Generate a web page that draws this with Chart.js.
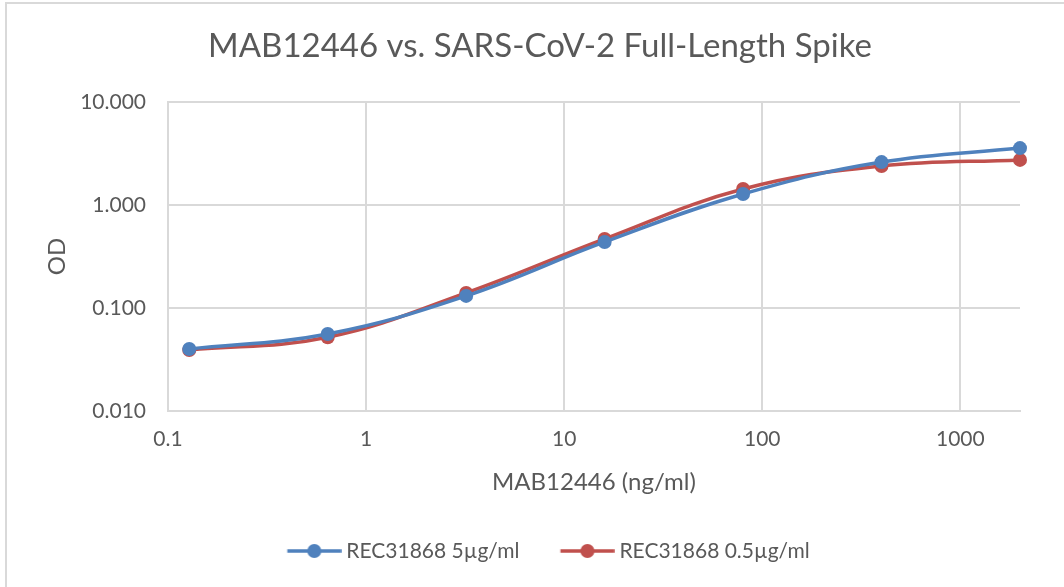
<!DOCTYPE html>
<html>
<head>
<meta charset="utf-8">
<script src="https://cdn.jsdelivr.net/npm/chart.js@4.4.1/dist/chart.umd.min.js"></script>
<style>
  html, body { margin: 0; padding: 0; background: #fff; }
  #wrap { position: relative; width: 1064px; height: 587px; }
  #frame { position: absolute; left: 5px; top: 2px; right: 0; bottom: 0; border-top: 2px solid #d9d9d9; border-left: 2px solid #d9d9d9; pointer-events: none; }
  canvas { position: absolute; left: 0; top: 0; }
</style>
</head>
<body>
<div id="wrap">
  <canvas id="c" width="1064" height="587"></canvas>
  <div id="frame"></div>
</div>
<script>
// ---- data ----
const concentrations = [0.128, 0.64, 3.2, 16, 80, 400, 2000]; // ng/ml
const od5 = [0.040, 0.056, 0.131, 0.438, 1.28, 2.61, 3.57];
const od05 = [0.039, 0.052, 0.140, 0.468, 1.43, 2.39, 2.74];
const seriesNames = ['REC31868 5µg/ml', 'REC31868 0.5µg/ml'];
const seriesColors = ['#4F81BD', '#C0504D'];
const xTicks = [0.1, 1, 10, 100, 1000];
const yTicks = [0.01, 0.1, 1, 10];
const chartTitle = 'MAB12446 vs. SARS-CoV-2 Full-Length Spike';
const xTitle = 'MAB12446 (ng/ml)';
const yTitle = 'OD';

const FONT = 'Lato, "Open Sans", sans-serif';
const TEXT = '#595959';
const LEGEND_FS = 21;
const LEGEND_BOX = 65.5;

// legend symbol: a short line with a dot, placed so that it sits right before the text
function legendSymbol(color) {
  const cv = document.createElement('canvas');
  cv.width = 77; cv.height = 16;
  const g = cv.getContext('2d');
  const x0 = 22.75, x1 = 76.75;
  g.strokeStyle = color; g.lineWidth = 3.5;
  g.beginPath(); g.moveTo(x0, 8); g.lineTo(x1, 8); g.stroke();
  g.fillStyle = color;
  g.beginPath(); g.arc((x0 + x1) / 2, 8, 7, 0, Math.PI * 2); g.fill();
  return cv;
}
const symbols = seriesColors.map(legendSymbol);

const datasets = [od5, od05].map((vals, i) => ({
  label: seriesNames[i],
  data: concentrations.map((x, j) => ({ x: x, y: vals[j] })),
  borderColor: seriesColors[i],
  backgroundColor: seriesColors[i],
  borderWidth: 3.5,
  pointRadius: 7,
  pointHoverRadius: 7,
  pointBorderWidth: 0,
  tension: 0.4,
  clip: false,
  fill: false,
  yAxisID: 'y'
}));

new Chart(document.getElementById('c'), {
  type: 'line',
  data: { datasets: datasets },
  options: {
    responsive: false,
    animation: false,
    layout: { padding: { left: 16, right: 0, top: 0, bottom: 15.5 } },
    plugins: {
      title: {
        display: true, text: chartTitle, color: TEXT,
        font: { family: FONT, size: 33, weight: 'normal' },
        padding: { top: 27, bottom: 35.4 }
      },
      legend: {
        position: 'bottom',
        labels: {
          color: TEXT,
          font: { family: FONT, size: LEGEND_FS },
          usePointStyle: true,
          pointStyleWidth: LEGEND_BOX,
          padding: 24,
          generateLabels: (chart) => chart.data.datasets.map((ds, i) => ({
            text: ds.label,
            pointStyle: symbols[i],
            fillStyle: ds.borderColor,
            strokeStyle: ds.borderColor,
            lineWidth: 0,
            fontColor: TEXT,
            datasetIndex: i
          }))
        }
      },
      tooltip: { enabled: false }
    },
    scales: {
      x: {
        type: 'logarithmic',
        min: 0.1, max: 2000,
        afterBuildTicks: (s) => { s.ticks = xTicks.map(v => ({ value: v })); },
        afterFit: (s) => { s.height = 105.5; },
        ticks: {
          color: TEXT, font: { family: FONT, size: 21 }, padding: 16,
          maxRotation: 0, autoSkip: false,
          callback: (v) => String(v)
        },
        grid: { color: '#d9d9d9', lineWidth: 2, drawTicks: false },
        border: { color: '#d9d9d9', width: 2 },
        title: { display: true, text: xTitle, color: TEXT, font: { family: FONT, size: 24 }, padding: { top: 0, bottom: 20 } }
      },
      y: {
        type: 'logarithmic',
        position: 'left',
        min: 0.01, max: 10,
        afterBuildTicks: (s) => { s.ticks = yTicks.map(v => ({ value: v })); },
        afterFit: (s) => { s.width = 152; },
        ticks: {
          color: TEXT, font: { family: FONT, size: 21 }, padding: 22,
          autoSkip: false,
          callback: (v) => Number(v).toFixed(3)
        },
        grid: { color: '#d9d9d9', lineWidth: 2, drawTicks: false },
        border: { color: '#d9d9d9', width: 2 },
        title: { display: true, text: yTitle, color: TEXT, font: { family: FONT, size: 24 }, padding: { top: 26.6, bottom: 0 } }
      },
      spacer: {
        type: 'linear',
        position: 'right',
        min: 0, max: 1,
        afterFit: (s) => { s.width = 44; },
        grid: { display: false, drawTicks: false },
        border: { display: false },
        ticks: { display: false }
      }
    }
  }
});
</script>
</body>
</html>
